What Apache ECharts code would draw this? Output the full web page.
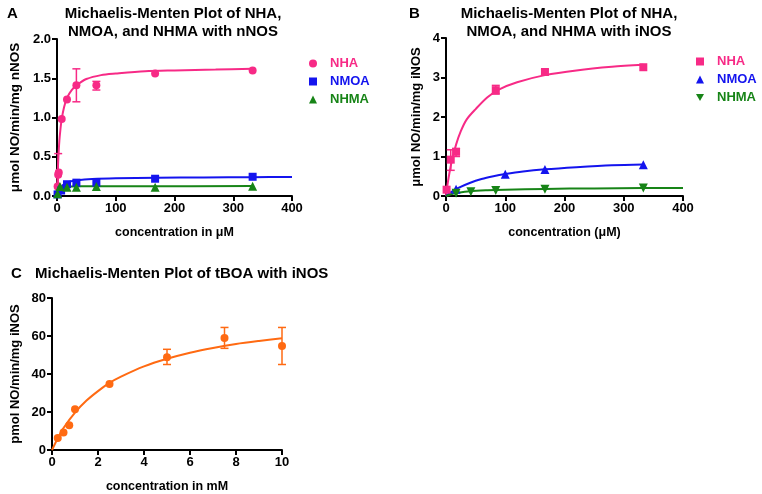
<!DOCTYPE html>
<html><head><meta charset="utf-8">
<script src="https://cdn.jsdelivr.net/npm/echarts@6/dist/echarts.min.js"></script>
<style>html,body{margin:0;padding:0;background:#fff}#c{width:762px;height:494px}</style>
</head><body><div id="c"></div>
<script>
// ---------- DATA ----------
// Panel A (nNOS), concentration in µM
const aNHA = [[1,0.12],[2,0.27],[3,0.30],[8,0.98],[17,1.23],[33,1.41],[67,1.41],[167,1.56],[333,1.60]];
const aNHAerr = [[2,0.05,0.54],[33,1.20,1.62],[67,1.35,1.46]];
const aNHAfit = [[0,0],[1,0.25],[2,0.44],[4,0.70],[6,0.86],[8,0.98],[12,1.13],[17,1.25],[25,1.35],[35,1.42],[50,1.49],[75,1.54],[100,1.56],[150,1.59],[200,1.60],[270,1.61],[333,1.62]];
const aNMOA = [[1,0.02],[7,0.07],[17,0.15],[33,0.17],[67,0.17],[167,0.22],[333,0.245]];
const aNMOAfit = [[0,0],[2,0.05],[5,0.10],[10,0.14],[20,0.18],[35,0.20],[60,0.215],[100,0.225],[170,0.232],[250,0.237],[333,0.24],[400,0.242]];
const aNHMA = [[1,0.03],[5,0.12],[17,0.11],[33,0.11],[67,0.12],[167,0.11],[333,0.125]];
const aNHMAfit = [[0,0],[1,0.05],[3,0.09],[6,0.11],[12,0.118],[25,0.122],[60,0.124],[150,0.125],[333,0.126]];
// Panel B (iNOS), concentration in µM
const bNHA = [[1,0.16],[8,0.92],[17,1.12],[84,2.68],[167,3.14],[333,3.26]];
const bNHAerr = [[8,0.65,1.17],[17,1.0,1.2],[84,2.58,2.8],[167,3.08,3.2]];
const bNHAfit = [[0,0],[3,0.33],[6,0.6],[10,0.9],[17,1.3],[25,1.64],[35,1.94],[50,2.2],[70,2.5],[90,2.7],[120,2.88],[167,3.06],[220,3.18],[280,3.27],[333,3.32]];
const bNMOA = [[17,0.17],[100,0.55],[167,0.67],[333,0.79]];
const bNMOAfit = [[0,0],[10,0.11],[20,0.2],[40,0.33],[60,0.43],[80,0.5],[100,0.555],[130,0.62],[167,0.675],[220,0.73],[280,0.78],[333,0.8]];
const bNHMA = [[17,0.07],[42,0.11],[84,0.14],[167,0.17],[333,0.2]];
const bNHMAfit = [[0,0],[10,0.05],[20,0.08],[40,0.12],[70,0.145],[100,0.16],[167,0.18],[250,0.192],[333,0.2],[400,0.202]];
// Panel C (tBOA, iNOS), concentration in mM
const cTBOA = [[0.25,6.3],[0.5,9.2],[0.75,13],[1,21.5],[2.5,34.8],[5,48.8],[7.5,58.9],[10,54.7]];
const cTBOAerr = [[5,45,53],[7.5,53.5,64.5],[10,45,64.5]];
const cTBOAfit = [[0,0],[0.25,6.2],[0.5,11.6],[1,19.7],[1.5,26],[2,31],[2.5,35.3],[3,38.6],[4,44],[5,48],[6,51.2],[7,53.7],[8,55.8],[9,57.4],[10,58.8]];

const titleA = 'Michaelis-Menten Plot of NHA,\nNMOA, and NHMA with nNOS';
const titleB = 'Michaelis-Menten Plot of NHA,\nNMOA, and NHMA with iNOS';
const titleC = 'Michaelis-Menten Plot of tBOA with iNOS';
const xNameA = 'concentration in μM', xNameB = 'concentration (μM)', xNameC = 'concentration in mM';
const yNameA = 'μmol NO/min/mg nNOS', yNameB = 'μmol NO/min/mg iNOS', yNameC = 'pmol NO/min/mg iNOS';

// ---------- STYLE ----------
const PINK = '#f72a86', BLUE = '#1414ee', GREEN = '#178417', ORANGE = '#ff6a12';
const FONT = 'Liberation Sans, Arial, sans-serif';
const INV_TRI = 'path://M0,0 L10,0 L5,9 Z';

function axisCommon(){
  return {
    axisLine:{show:true,onZero:false,lineStyle:{color:'#000',width:2}},
    axisTick:{show:true,inside:false,length:5,lineStyle:{color:'#000',width:2}},
    axisLabel:{color:'#000',fontFamily:FONT,fontWeight:'bold',fontSize:13,margin:6},
    splitLine:{show:false},
    nameLocation:'middle',
    nameTextStyle:{color:'#000',fontFamily:FONT,fontWeight:'bold',fontSize:12.5}
  };
}
function xAxis(idx,max,interval,name,gap){
  return Object.assign(axisCommon(),{type:'value',gridIndex:idx,min:0,max:max,interval:interval,name:name,nameGap:gap});
}
function yAxis(idx,max,interval,name,gap,fs,fmt){
  const a = Object.assign(axisCommon(),{type:'value',gridIndex:idx,min:0,max:max,interval:interval,name:name,nameGap:gap});
  a.nameTextStyle.fontSize = fs;
  if(fmt) a.axisLabel.formatter = fmt;
  return a;
}
function scatter(name,ai,data,color,symbol,rot){
  return {type:'scatter',name:name,xAxisIndex:ai,yAxisIndex:ai,data:data,symbol:symbol,symbolSize:symbol==='circle'?8:(symbol==='rect'?8:9),symbolRotate:rot||0,
    itemStyle:{color:color,opacity:1},z:4};
}
function fit(name,ai,data,color){
  return {type:'line',name:name,xAxisIndex:ai,yAxisIndex:ai,data:data,smooth:0.3,showSymbol:false,symbol:'none',
    lineStyle:{color:color,width:2},z:3};
}
function errbar(name,ai,data,color){
  return {type:'custom',name:name,xAxisIndex:ai,yAxisIndex:ai,data:data,z:3,
    encode:{x:0,y:[1,2]},
    renderItem:function(params,api){
      const x=api.value(0), lo=api.value(1), hi=api.value(2);
      const p1=api.coord([x,lo]), p2=api.coord([x,hi]);
      const w=4, st={stroke:color,lineWidth:1.5};
      return {type:'group',children:[
        {type:'line',shape:{x1:p1[0],y1:p1[1],x2:p2[0],y2:p2[1]},style:st},
        {type:'line',shape:{x1:p1[0]-w,y1:p1[1],x2:p1[0]+w,y2:p1[1]},style:st},
        {type:'line',shape:{x1:p2[0]-w,y1:p2[1],x2:p2[0]+w,y2:p2[1]},style:st}
      ]};
    }};
}
function legend(left,top,items){
  return {orient:'vertical',left:left,top:top,itemGap:5,itemWidth:8,itemHeight:8,selectedMode:false,
    formatter:function(n){return n.split('|')[0];},
    textStyle:{fontFamily:FONT,fontWeight:'bold',fontSize:13,padding:[0,0,0,8]},
    data:items.map(function(it){return {name:it[0],icon:it[2],itemStyle:{color:it[1]},textStyle:{color:it[1]}};})};
}
const titleStyle = {fontFamily:FONT,fontWeight:'bold',fontSize:15,color:'#000',lineHeight:18};
const letterStyle = {fontFamily:FONT,fontWeight:'bold',fontSize:15,color:'#000'};

const option = {
  animation:false,
  backgroundColor:'#fff',
  title:[
    {text:'A',left:7,top:6,padding:0,textStyle:letterStyle},
    {text:titleA,left:173,top:5,padding:0,textAlign:'center',textStyle:titleStyle},
    {text:'B',left:409,top:6,padding:0,textStyle:letterStyle},
    {text:titleB,left:569,top:5,padding:0,textAlign:'center',textStyle:titleStyle},
    {text:'C',left:11,top:266,padding:0,textStyle:letterStyle},
    {text:titleC,left:35,top:265,padding:0,textStyle:titleStyle}
  ],
  grid:[
    {left:57,top:39,width:235,height:157},
    {left:446,top:38,width:237,height:158},
    {left:52,top:298,width:230,height:153}
  ],
  xAxis:[xAxis(0,400,100,xNameA,30), xAxis(1,400,100,xNameB,30), xAxis(2,10,2,xNameC,30)],
  yAxis:[
    yAxis(0,2,0.5,yNameA,35,13.5,function(v){return v.toFixed(1);}),
    yAxis(1,4,1,yNameB,23,13),
    yAxis(2,80,20,yNameC,30,13)
  ],
  legend:[
    legend(304,52,[['NHA|A',PINK,'circle'],['NMOA|A',BLUE,'rect'],['NHMA|A',GREEN,'triangle']]),
    legend(691,50,[['NHA|B',PINK,'rect'],['NMOA|B',BLUE,'triangle'],['NHMA|B',GREEN,INV_TRI]])
  ],
  series:[
    fit('fitNHA_A',0,aNHAfit,PINK), errbar('errNHA_A',0,aNHAerr,PINK), scatter('NHA|A',0,aNHA,PINK,'circle'),
    fit('fitNMOA_A',0,aNMOAfit,BLUE), scatter('NMOA|A',0,aNMOA,BLUE,'rect'),
    fit('fitNHMA_A',0,aNHMAfit,GREEN), scatter('NHMA|A',0,aNHMA,GREEN,'triangle'),
    fit('fitNHA_B',1,bNHAfit,PINK), errbar('errNHA_B',1,bNHAerr,PINK), scatter('NHA|B',1,bNHA,PINK,'rect'),
    fit('fitNMOA_B',1,bNMOAfit,BLUE), scatter('NMOA|B',1,bNMOA,BLUE,'triangle'),
    fit('fitNHMA_B',1,bNHMAfit,GREEN), scatter('NHMA|B',1,bNHMA,GREEN,INV_TRI),
    fit('fitC',2,cTBOAfit,ORANGE), errbar('errC',2,cTBOAerr,ORANGE), scatter('tBOA',2,cTBOA,ORANGE,'circle')
  ]
};
const chart = echarts.init(document.getElementById('c'),null,{renderer:'canvas'});
chart.setOption(option);
</script></body></html>
